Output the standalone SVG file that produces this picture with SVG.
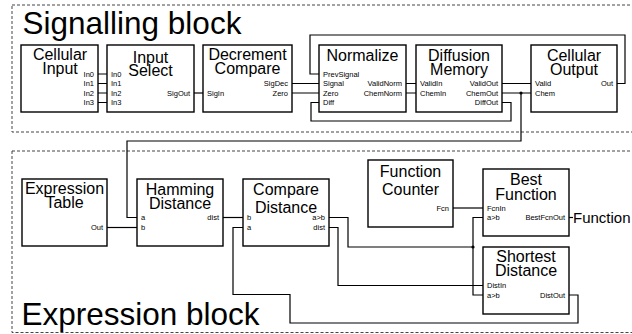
<svg xmlns="http://www.w3.org/2000/svg" width="632" height="334" viewBox="0 0 632 334">
  <style>
    text { font-family: "Liberation Sans", Arial, Helvetica, sans-serif; fill: #000; }
    .region { fill: none; stroke: #444; stroke-width: 1; stroke-dasharray: 3 2; }
    .region-title { font-size: 31.5px; }
    .box { fill: #fff; stroke: #000; stroke-width: 1.4; }
    .title { font-size: 16px; text-anchor: middle; }
    .port { font-size: 7.5px; }
    .port-r { font-size: 7.5px; text-anchor: end; }
    .wire { fill: none; stroke: #000; stroke-width: 1.2; }
    .dot { fill: #000; }
    .out-label { font-size: 15px; }
  </style>

  <!-- enclosing regions -->
  <rect class="region" x="12" y="5" width="640" height="127"/>
  <text class="region-title" x="22.5" y="34">Signalling block</text>
  <rect class="region" x="12" y="151" width="640" height="181.5"/>
  <text class="region-title" x="21.5" y="325">Expression block</text>

  <!-- connectors -->
  <g id="connectors">
    <path class="wire" d="M98 74 H107 M98 83.5 H107 M98 93 H107 M98 102.5 H107"/>
    <path class="wire" d="M194 93 H203"/>
    <path class="wire" d="M292 83.5 H319 M292 93 H319"/>
    <path class="wire" d="M406 83.5 H416 M406 93 H416"/>
    <path class="wire" d="M502 83.5 H531 M502 93 H531"/>
    <path class="wire" d="M617 83.5 H625 V35 H310 V74 H319"/>
    <path class="wire" d="M319 102.5 H311 V121 H511 V102.5 H502"/>
    <path class="wire" d="M521 93 V141 H127 V217.5 H137"/>
    <circle class="dot" cx="521" cy="93" r="1.6"/>

    <path class="wire" d="M107 227.5 H137"/>
    <path class="wire" d="M223 217.5 H243"/>
    <path class="wire" d="M329 217.5 H348 V247 H473"/>
    <path class="wire" d="M483 217.5 H473 V295 H483"/>
    <circle class="dot" cx="473" cy="247" r="1.6"/>
    <path class="wire" d="M329 227.5 H338 V285.5 H483"/>
    <path class="wire" d="M453 208 H483"/>
    <path class="wire" d="M569 217.5 H573"/>
    <path class="wire" d="M569 295 H578 V323 H290 V294.5 H233 V227.5 H243"/>
  </g>

  <!-- signalling nodes -->
  <g id="cellular-input">
    <rect class="box" x="21" y="45" width="77" height="67"/>
    <text class="title" x="60" y="60">Cellular</text>
    <text class="title" x="60" y="73.5">Input</text>
    <text class="port-r" x="94" y="76.7">In0</text>
    <text class="port-r" x="94" y="86.2">In1</text>
    <text class="port-r" x="94" y="95.7">In2</text>
    <text class="port-r" x="94" y="105.2">In3</text>
  </g>

  <g id="input-select">
    <rect class="box" x="107" y="45" width="87" height="67"/>
    <text class="title" x="150.5" y="62.5">Input</text>
    <text class="title" x="150.5" y="76">Select</text>
    <text class="port" x="111" y="76.7">In0</text>
    <text class="port" x="111" y="86.2">In1</text>
    <text class="port" x="111" y="95.7">In2</text>
    <text class="port" x="111" y="105.2">In3</text>
    <text class="port-r" x="190" y="95.7">SigOut</text>
  </g>

  <g id="decrement-compare">
    <rect class="box" x="203" y="45" width="89" height="67"/>
    <text class="title" x="247.5" y="60">Decrement</text>
    <text class="title" x="247.5" y="73.5">Compare</text>
    <text class="port" x="207" y="95.7">SigIn</text>
    <text class="port-r" x="288" y="86.2">SigDec</text>
    <text class="port-r" x="288" y="95.7">Zero</text>
  </g>

  <g id="normalize">
    <rect class="box" x="319" y="45" width="87" height="67"/>
    <text class="title" x="362.5" y="61">Normalize</text>
    <text class="port" x="323" y="76.7">PrevSignal</text>
    <text class="port" x="323" y="86.2">Signal</text>
    <text class="port" x="323" y="95.7">Zero</text>
    <text class="port" x="323" y="105.2">Diff</text>
    <text class="port-r" x="402" y="86.2">ValidNorm</text>
    <text class="port-r" x="402" y="95.7">ChemNorm</text>
  </g>

  <g id="diffusion-memory">
    <rect class="box" x="416" y="45" width="86" height="67"/>
    <text class="title" x="459" y="61">Diffusion</text>
    <text class="title" x="459" y="74.5">Memory</text>
    <text class="port" x="420" y="86.2">ValidIn</text>
    <text class="port" x="420" y="95.7">ChemIn</text>
    <text class="port-r" x="498" y="86.2">ValidOut</text>
    <text class="port-r" x="498" y="95.7">ChemOut</text>
    <text class="port-r" x="498" y="105.2">DiffOut</text>
  </g>

  <g id="cellular-output">
    <rect class="box" x="531" y="45" width="86" height="67"/>
    <text class="title" x="574" y="61">Cellular</text>
    <text class="title" x="574" y="74.5">Output</text>
    <text class="port" x="535" y="86.2">Valid</text>
    <text class="port" x="535" y="95.7">Chem</text>
    <text class="port-r" x="613" y="86.2">Out</text>
  </g>

  <!-- expression nodes -->
  <g id="expression-table">
    <rect class="box" x="22" y="179" width="85" height="67"/>
    <text class="title" x="64.5" y="194">Expression</text>
    <text class="title" x="64.5" y="207.5">Table</text>
    <text class="port-r" x="103" y="230.2">Out</text>
  </g>

  <g id="hamming-distance">
    <rect class="box" x="137" y="179" width="86" height="67"/>
    <text class="title" x="180" y="195">Hamming</text>
    <text class="title" x="180" y="208.5">Distance</text>
    <text class="port" x="141" y="220.2">a</text>
    <text class="port" x="141" y="230.2">b</text>
    <text class="port-r" x="219" y="220.2">dist</text>
  </g>

  <g id="compare-distance">
    <rect class="box" x="243" y="179" width="86" height="67"/>
    <text class="title" x="286" y="195">Compare</text>
    <text class="title" x="286" y="213">Distance</text>
    <text class="port" x="247" y="220.2">b</text>
    <text class="port" x="247" y="230.2">a</text>
    <text class="port-r" x="325" y="220.2">a&gt;b</text>
    <text class="port-r" x="325" y="230.2">dist</text>
  </g>

  <g id="function-counter">
    <rect class="box" x="368" y="160" width="85" height="67"/>
    <text class="title" x="410.5" y="176.5">Function</text>
    <text class="title" x="410.5" y="195">Counter</text>
    <text class="port-r" x="449" y="210.7">Fcn</text>
  </g>

  <g id="best-function">
    <rect class="box" x="483" y="169" width="86" height="67"/>
    <text class="title" x="526" y="185">Best</text>
    <text class="title" x="526" y="200">Function</text>
    <text class="port" x="487" y="210.7">FcnIn</text>
    <text class="port" x="487" y="220.2">a&gt;b</text>
    <text class="port-r" x="565" y="220.2">BestFcnOut</text>
  </g>

  <g id="shortest-distance">
    <rect class="box" x="483" y="247" width="86" height="67"/>
    <text class="title" x="526" y="262">Shortest</text>
    <text class="title" x="526" y="275.5">Distance</text>
    <text class="port" x="487" y="288.2">DistIn</text>
    <text class="port" x="487" y="297.7">a&gt;b</text>
    <text class="port-r" x="565" y="297.7">DistOut</text>
  </g>

  <text class="out-label" x="573" y="222.5">Function</text>
</svg>
